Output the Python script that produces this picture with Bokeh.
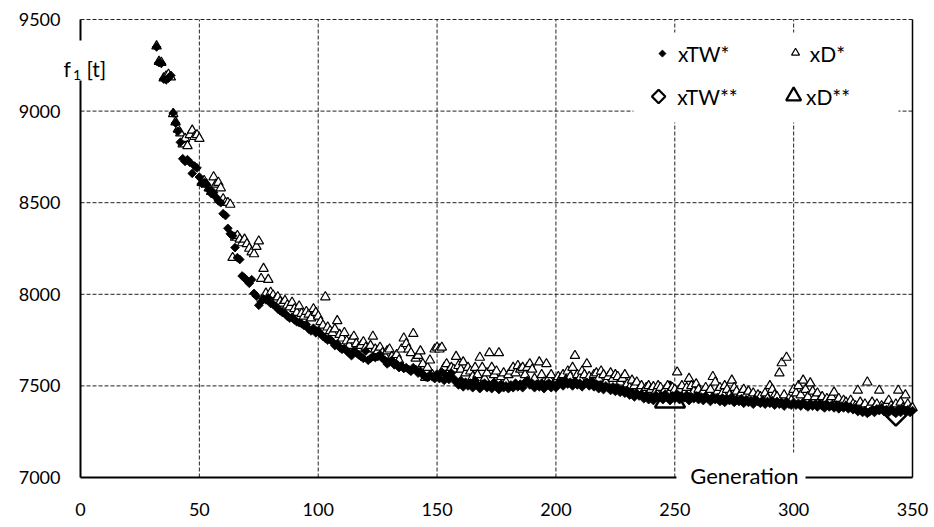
import numpy as np
from bokeh.plotting import figure
from bokeh.models import Label, Range1d, FixedTicker, BoxAnnotation
from bokeh.embed import file_html
from bokeh.resources import INLINE

# ---------------- data ----------------
generations = list(range(32, 351))

xTW_star = [
    9350, 9265, 9260, 9175, 9170, 9180, 9195, 8990,
    8935, 8890, 8830, 8740, 8725, 8735, 8720, 8660, 8700, 8690,
    8640, 8605, 8610, 8600, 8570, 8550, 8555, 8530, 8510, 8500,
    8440, 8430, 8360, 8330, 8320, 8255, 8200, 8190, 8100, 8090,
    8075, 8060, 8080, 8005, 7990, 7940, 7960, 7975, 7970, 7980,
    7950, 7945, 7935, 7920, 7910, 7900, 7895, 7880, 7870, 7875,
    7860, 7850, 7845, 7840, 7830, 7835, 7810, 7800, 7815, 7790,
    7800, 7785, 7770, 7760, 7750, 7755, 7740, 7720, 7730, 7710,
    7700, 7705, 7690, 7680, 7665, 7690, 7680, 7670, 7660, 7650,
    7690, 7640, 7650, 7660, 7655, 7660, 7670, 7650, 7640, 7620,
    7630, 7640, 7615, 7620, 7600, 7610, 7595, 7600, 7590, 7580,
    7600, 7590, 7570, 7580, 7560, 7550, 7545, 7560, 7550, 7540,
    7565, 7540, 7575, 7530, 7555, 7535, 7570, 7540, 7520, 7505,
    7530, 7495, 7520, 7500, 7515, 7490, 7530, 7505, 7485, 7510,
    7515, 7490, 7505, 7485, 7520, 7495, 7480, 7510, 7490, 7500,
    7485, 7505, 7490, 7515, 7495, 7510, 7490, 7520, 7530, 7505,
    7515, 7490, 7510, 7495, 7515, 7485, 7505, 7515, 7490, 7505,
    7490, 7515, 7525, 7500, 7530, 7510, 7520, 7500, 7525, 7505,
    7515, 7495, 7510, 7520, 7500, 7525, 7495, 7510, 7485, 7505,
    7480, 7500, 7490, 7475, 7495, 7470, 7490, 7465, 7480, 7460,
    7475, 7450, 7465, 7440, 7460, 7445, 7455, 7430, 7450, 7425,
    7440, 7420, 7450, 7430, 7445, 7425, 7455, 7435, 7420, 7445,
    7430, 7455, 7425, 7445, 7435, 7450, 7420, 7440, 7430, 7445,
    7425, 7440, 7420, 7445, 7430, 7415, 7440, 7425, 7435, 7415,
    7435, 7410, 7430, 7420, 7440, 7410, 7425, 7415, 7430, 7405,
    7425, 7410, 7420, 7400, 7425, 7415, 7405, 7420, 7400, 7415,
    7405, 7420, 7395, 7415, 7400, 7410, 7390, 7415, 7400, 7395,
    7410, 7395, 7405, 7390, 7410, 7395, 7385, 7405, 7390, 7400,
    7385, 7405, 7390, 7380, 7400, 7385, 7395, 7380, 7395, 7375,
    7390, 7380, 7395, 7375, 7385, 7370, 7380, 7360, 7370, 7355,
    7365, 7350, 7360, 7370, 7355, 7375, 7365, 7380, 7360, 7370,
    7355, 7375, 7360, 7350, 7370, 7355, 7375, 7360, 7370, 7355, 7365,
]

xD_star = [
    9355, 9270, 9265, 9180, 9190, 9200, 9185, 8985,
    8940, 8900, 8880, 8820, 8850, 8810, 8870, 8895, 8860, 8870,
    8850, 8610, 8620, 8600, 8580, 8560, 8640, 8600, 8610, 8580,
    8520, 8500, 8500, 8490, 8200, 8310, 8320, 8300, 8280, 8300,
    8275, 8250, 8230, 8220, 8260, 8290, 8085, 8140, 8005, 8080,
    8010, 7995, 7970, 7985, 7960, 7950, 7965, 7940, 7930, 7955,
    7920, 7900, 7935, 7895, 7880, 7905, 7890, 7870, 7920, 7900,
    7880, 7850, 7830, 7985, 7820, 7800, 7790, 7810, 7855, 7780,
    7760, 7790, 7745, 7720, 7750, 7770, 7730, 7705, 7720, 7740,
    7710, 7700, 7720, 7770, 7700, 7690, 7710, 7680, 7665, 7690,
    7700, 7660, 7650, 7670, 7640, 7700, 7760, 7730, 7700, 7680,
    7785, 7650, 7665, 7690, 7620, 7545, 7600, 7640, 7560, 7700,
    7710, 7700, 7710, 7600, 7620, 7580, 7600, 7590, 7660, 7610,
    7590, 7630, 7570, 7600, 7580, 7550, 7600, 7560, 7655, 7600,
    7540, 7570, 7680, 7600, 7560, 7580, 7680, 7550, 7570, 7520,
    7560, 7580, 7600, 7570, 7610, 7590, 7600, 7560, 7600, 7620,
    7590, 7540, 7500, 7630, 7560, 7520, 7620, 7540, 7560, 7510,
    7520, 7550, 7540, 7560, 7530, 7580, 7550, 7600, 7665, 7560,
    7540, 7580, 7560, 7620, 7550, 7530, 7560, 7570, 7540, 7580,
    7560, 7520, 7550, 7570, 7540, 7560, 7550, 7520, 7540, 7560,
    7510, 7490, 7530, 7500, 7520, 7480, 7500, 7470, 7490, 7500,
    7480, 7495, 7470, 7500, 7490, 7460, 7480, 7500, 7470, 7490,
    7480, 7575, 7480, 7500, 7460, 7490, 7540, 7500, 7470, 7510,
    7480, 7450, 7470, 7490, 7460, 7480, 7550, 7520, 7470, 7490,
    7460, 7500, 7480, 7450, 7530, 7490, 7470, 7440, 7460, 7480,
    7450, 7470, 7440, 7460, 7430, 7450, 7440, 7420, 7460, 7430,
    7500, 7480, 7450, 7440, 7570, 7625, 7450, 7655, 7430, 7420,
    7480, 7460, 7500, 7450, 7530, 7480, 7440, 7515, 7470, 7440,
    7460, 7420, 7440, 7410, 7430, 7420, 7440, 7465, 7410, 7430,
    7400, 7420, 7410, 7395, 7420, 7400, 7390, 7475, 7410, 7380,
    7400, 7520, 7390, 7410, 7380, 7400, 7475, 7390, 7380, 7400,
    7420, 7390, 7380, 7400, 7475, 7410, 7380, 7450, 7400, 7370, 7380,
]

xTW_best_gen = [343]
xTW_best_val = [7345]
xD_best_gen = [248]
xD_best_val = [7430]

x_ticks = [0, 50, 100, 150, 200, 250, 300, 350]
y_ticks = [7000, 7500, 8000, 8500, 9000, 9500]

FONT = "Lato"

# The frame covers the whole canvas; the axes sit at fixed locations inside it
X0, X1 = x_ticks[0], x_ticks[-1]
Y0, Y1 = y_ticks[0], y_ticks[-1]
kx = 832.0 / (X1 - X0)      # px per generation
ky = 458.0 / (Y1 - Y0)      # px per tonne

p = figure(width=934, height=527,
           x_range=Range1d(X0 - 80 / kx, X1 + 22 / kx),
           y_range=Range1d(Y0 - 50 / ky, Y1 + 19 / ky),
           output_backend="svg", toolbar_location=None,
           min_border=0, min_border_left=0, min_border_right=0,
           min_border_top=0, min_border_bottom=0)
p.outline_line_color = None
p.background_fill_color = "white"
p.border_fill_color = "white"
p.grid.visible = False

for ax in (p.xaxis, p.yaxis):
    ax.axis_line_color = "black"
    ax.axis_line_width = 2
    ax.major_tick_line_color = None
    ax.minor_tick_line_color = None
    ax.major_label_text_font = FONT
    ax.major_label_text_font_size = "18px"
    ax.major_label_text_color = "black"

p.xaxis.fixed_location = Y0
p.yaxis.fixed_location = X0
p.xaxis.bounds = (X0, X1)
p.yaxis.bounds = (Y0, Y1)
p.xaxis.ticker = FixedTicker(ticks=x_ticks)
p.yaxis.ticker = FixedTicker(ticks=y_ticks)
p.xaxis.major_label_standoff = 19
p.yaxis.major_label_standoff = 14

# dashed grid inside the plot area only
vx = x_ticks[1:-1]
p.segment(x0=vx, y0=[Y0] * len(vx), x1=vx, y1=[Y1] * len(vx),
          line_color="#222222", line_dash="4 2", line_width=1, level="underlay")
hy = y_ticks[1:]
p.segment(x0=[X0] * len(hy), y0=hy, x1=[X1] * len(hy), y1=hy,
          line_color="#222222", line_dash="4 2", line_width=1, level="underlay")
# solid right edge
p.segment(x0=[X1], y0=[Y0], x1=[X1], y1=[Y1], line_color="black", line_width=1.5)

# big markers (xTW**, xD**)
p.scatter(xD_best_gen, xD_best_val, marker="triangle", size=30,
          fill_color=None, line_color="black", line_width=2.5)
p.scatter(xTW_best_gen, xTW_best_val, marker="square", angle=np.pi / 4, size=16,
          fill_color=None, line_color="black", line_width=2.5)

# series
p.scatter(generations, xD_star, marker="triangle", size=9.5,
          fill_color="white", line_color="black", line_width=1.2)
p.scatter(generations, xTW_star, marker="square", angle=np.pi / 4, size=6.2,
          fill_color="black", line_color="black", line_width=0.8)

# legend (custom)
p.add_layout(BoxAnnotation(left=232.6, right=344.1, top=9429, bottom=8938,
                           fill_color="white", fill_alpha=1, line_color=None,
                           level="underlay"))
p.scatter([244.8], [9314], marker="square", angle=np.pi / 4, size=5,
          fill_color="black", line_color="black", line_width=0.8)
p.scatter([300.8], [9318], marker="triangle", size=8,
          fill_color="white", line_color="black", line_width=1.2)
p.scatter([243.2], [9080], marker="square", angle=np.pi / 4, size=9.5,
          fill_color="white", line_color="black", line_width=2.2)
p.scatter([300.0], [9082], marker="triangle", size=15,
          fill_color="white", line_color="black", line_width=2.2)
for tx, ty, t in [(251.3, 9314, "xTW*"), (306.8, 9314, "xD*"),
                  (251.0, 9080, "xTW**"), (305.2, 9080, "xD**")]:
    p.add_layout(Label(x=tx, y=ty, text=t, text_font=FONT, text_font_size="21px",
                       text_baseline="middle", text_align="left", text_color="black"))

# y axis title f1 [t]
p.add_layout(BoxAnnotation(left=-8.4, right=13.0, top=9385, bottom=9167,
                           fill_color="white", fill_alpha=1, line_color=None))
p.add_layout(Label(x=-7.15, y=9232, text="f", text_font=FONT, text_font_size="21px",
                   text_baseline="alphabetic", text_align="left", text_color="black"))
p.add_layout(Label(x=-3.2, y=9196, text="1", text_font=FONT, text_font_size="14px",
                   text_baseline="alphabetic", text_align="left", text_color="black"))
p.add_layout(Label(x=2.5, y=9232, text="[t]", text_font=FONT, text_font_size="21px",
                   text_baseline="alphabetic", text_align="left", text_color="black"))

# x axis title
p.add_layout(BoxAnnotation(left=250.7, right=305.0, top=7136, bottom=6918,
                           fill_color="white", fill_alpha=1, line_color=None))
p.add_layout(Label(x=279.3, y=7011, text="Generation", text_font=FONT, text_font_size="22px",
                   text_baseline="middle", text_align="center", text_color="black"))

open("out.html", "w").write(file_html(p, INLINE))
